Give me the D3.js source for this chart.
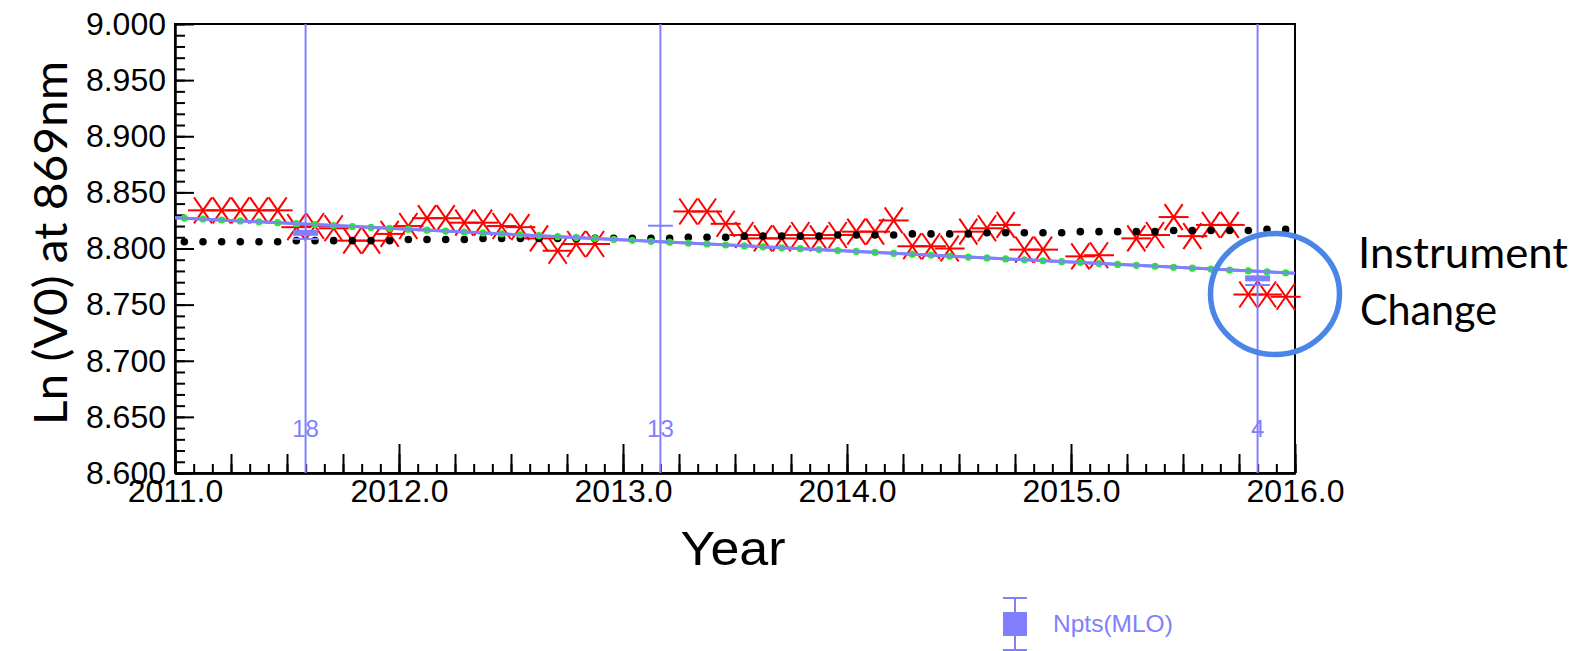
<!DOCTYPE html>
<html><head><meta charset="utf-8">
<script src="https://cdn.jsdelivr.net/npm/d3@7"></script>
<style>body{margin:0;background:#fff}svg{display:block}</style>
</head><body>
<svg id="c" width="1592" height="651"></svg>
<script>
// ---------- data ----------
const months = [
 "2011-01","2011-02","2011-03","2011-04","2011-05","2011-06","2011-07","2011-08","2011-09","2011-10","2011-11","2011-12",
 "2012-01","2012-02","2012-03","2012-04","2012-05","2012-06","2012-07","2012-08","2012-09","2012-10","2012-11","2012-12",
 "2013-01","2013-02","2013-03","2013-04","2013-05","2013-06","2013-07","2013-08","2013-09","2013-10","2013-11","2013-12",
 "2014-01","2014-02","2014-03","2014-04","2014-05","2014-06","2014-07","2014-08","2014-09","2014-10","2014-11","2014-12",
 "2015-01","2015-02","2015-03","2015-04","2015-05","2015-06","2015-07","2015-08","2015-09","2015-10","2015-11","2015-12"
];
const redValues = [
 null, 8.834, 8.834, 8.834, 8.834, 8.834, 8.819, 8.820, 8.818, 8.807, 8.807, 8.813,
 8.820, 8.827, 8.827, 8.823, 8.823, 8.820, 8.819, 8.809, 8.798, 8.804, 8.804, null,
 null, null, null, 8.833, 8.833, 8.822, 8.812, 8.809, 8.809, 8.812, 8.809, 8.812,
 8.815, 8.815, 8.825, 8.802, 8.802, 8.800, 8.815, 8.818, 8.821, 8.799, 8.799, null,
 8.793, 8.794, null, 8.809, 8.812, 8.828, 8.811, 8.821, 8.821, 8.759, 8.759, 8.757
];
const blackValues = [
 8.806, 8.806, 8.806, 8.806, 8.806, 8.806, 8.807, 8.807, 8.807, 8.807, 8.807, 8.807,
 8.808, 8.808, 8.808, 8.808, 8.809, 8.809, 8.809, 8.809, 8.809, 8.809, 8.809, 8.809,
 8.809, 8.809, 8.809, 8.810, 8.810, 8.810, 8.811, 8.811, 8.811, 8.811, 8.811, 8.812,
 8.812, 8.812, 8.812, 8.813, 8.813, 8.813, 8.813, 8.814, 8.814, 8.814, 8.814, 8.814,
 8.815, 8.815, 8.815, 8.815, 8.815, 8.816, 8.816, 8.816, 8.816, 8.816, 8.817, 8.817
];
const greenValues = [
 8.8271, 8.8263, 8.8254, 8.8246, 8.8238, 8.8230, 8.8221, 8.8213, 8.8205, 8.8196, 8.8188, 8.8180,
 8.8172, 8.8163, 8.8155, 8.8147, 8.8139, 8.8130, 8.8122, 8.8114, 8.8106, 8.8097, 8.8089, 8.8081,
 8.8073, 8.8064, 8.8056, 8.8048, 8.8040, 8.8031, 8.8023, 8.8015, 8.8006, 8.7998, 8.7990, 8.7982,
 8.7974, 8.7965, 8.7957, 8.7949, 8.7941, 8.7932, 8.7924, 8.7916, 8.7907, 8.7899, 8.7891, 8.7883,
 8.7875, 8.7866, 8.7858, 8.7850, 8.7842, 8.7833, 8.7825, 8.7817, 8.7808, 8.7800, 8.7792, 8.7784
];
const fitX = [2011.0, 2016.0];
const fitY = [8.8275, 8.7780];
const nptsX = [2011.583, 2013.167, 2015.833];
const nptsLabels = ["18", "13", "4"];
const nptsBox = [8.814, null, 8.7734];
const nptsCap = [8.8085, 8.8203, 8.7675];
const xTicks = [2011, 2012, 2013, 2014, 2015, 2016];
const yTicks = [8.60, 8.65, 8.70, 8.75, 8.80, 8.85, 8.90, 8.95, 9.00];
const xTitle = "Year";
const yTitle = "Ln (V0) at 869nm";
const legendLabel = "Npts(MLO)";
const noteLines = ["Instrument", "Change"];

// ---------- setup ----------
const svg = d3.select("#c");
svg.append("rect").attr("width",1592).attr("height",651).attr("fill","#fff");
const L=175, R=1295, T=24, B=473;
const x = d3.scaleLinear().domain([2011,2016]).range([L,R]);
const y = d3.scaleLinear().domain([8.6,9.0]).range([B,T]);
const toYear = s => { const [yy,mm] = s.split("-").map(Number); return yy + (mm-0.5)/12; };
const monthX = months.map(toYear);
const HELV = "'Liberation Sans', Arial, Helvetica, sans-serif";
const CAL = "Lato, 'Open Sans', sans-serif";
const LAV = "#8080ff";

// ---------- axes ----------
function styleAxis(g){
  g.attr("font-family",HELV).attr("font-size",32);
  g.selectAll("path.domain").attr("stroke","#000").attr("stroke-width",2);
  g.selectAll(".tick line").attr("stroke","#000").attr("stroke-width",2);
  g.selectAll(".tick text").attr("fill","#000");
}
const xMinor = d3.range(0,61).map(i=>2011+i/12);
const xMid = d3.range(0,21).map(i=>2011+i/4);
const gxm = svg.append("g").attr("transform",`translate(0,${B})`)
  .call(d3.axisBottom(x).tickValues(xMinor).tickSize(-9).tickSizeOuter(0).tickFormat(""));
styleAxis(gxm);
const gxq = svg.append("g").attr("transform",`translate(0,${B})`)
  .call(d3.axisBottom(x).tickValues(xMid).tickSize(-19).tickSizeOuter(0).tickFormat(""));
styleAxis(gxq);
const gx = svg.append("g").attr("transform",`translate(0,${B})`)
  .call(d3.axisBottom(x).tickValues(xTicks).tickSize(-29).tickSizeOuter(0).tickPadding(6).tickFormat(d3.format(".1f")));
styleAxis(gx);

const yMinor = d3.range(0,41).map(i=>8.6+i*0.01);
const gym = svg.append("g").attr("transform",`translate(${L},0)`)
  .call(d3.axisLeft(y).tickValues(yMinor).tickSize(-10).tickSizeOuter(0).tickFormat(""));
styleAxis(gym);
const gy = svg.append("g").attr("transform",`translate(${L},0)`)
  .call(d3.axisLeft(y).tickValues(yTicks).tickSize(-19).tickSizeOuter(0).tickPadding(9).tickFormat(d3.format(".3f")));
styleAxis(gy);

// frame
svg.append("rect").attr("x",L).attr("y",T).attr("width",R-L).attr("height",B-T)
  .attr("fill","none").attr("stroke","#000").attr("stroke-width",2);

// ---------- red asterisks ----------
const redPts = monthX.map((t,i)=>({t, v:redValues[i]})).filter(d=>d.v!==null);
const gr = svg.append("g").attr("stroke","#ff0000").attr("stroke-width",2).attr("fill","none");
redPts.forEach(d=>{
  const cx = x(d.t), cy = y(d.v);
  gr.append("line").attr("x1",cx-15).attr("x2",cx+15).attr("y1",cy).attr("y2",cy);
  gr.append("line").attr("x1",cx-9).attr("x2",cx+9).attr("y1",cy-13).attr("y2",cy+13);
  gr.append("line").attr("x1",cx-9).attr("x2",cx+9).attr("y1",cy+13).attr("y2",cy-13);
});

// ---------- black dots ----------
svg.append("g").selectAll("circle").data(blackValues).join("circle")
  .attr("cx",(d,i)=>x(monthX[i])).attr("cy",d=>y(d)).attr("r",3.8).attr("fill","#000");

// ---------- fit line ----------
svg.append("path").datum(fitX.map((t,i)=>[t,fitY[i]]))
  .attr("d", d3.line().x(d=>x(d[0])).y(d=>y(d[1])))
  .attr("stroke",LAV).attr("stroke-width",3).attr("fill","none");

// ---------- green dots ----------
svg.append("g").selectAll("circle").data(greenValues).join("circle")
  .attr("cx",(d,i)=>x(monthX[i])).attr("cy",d=>y(d)).attr("r",3.6).attr("fill","#22ee22");

// fit line again on top (thin core) so dots peek out above/below
svg.append("path").datum(fitX.map((t,i)=>[t,fitY[i]]))
  .attr("d", d3.line().x(d=>x(d[0])).y(d=>y(d[1])))
  .attr("stroke",LAV).attr("stroke-width",3).attr("fill","none").attr("opacity",0.85);

// ---------- Npts(MLO) ----------
const gn = svg.append("g");
nptsX.forEach((t,i)=>{
  const cx = x(t);
  gn.append("line").attr("x1",cx).attr("x2",cx).attr("y1",T).attr("y2",B)
    .attr("stroke",LAV).attr("stroke-width",2);
  if (nptsBox[i] !== null) {
    gn.append("rect").attr("x",cx-12.5).attr("y",y(nptsBox[i])-3).attr("width",25).attr("height",6)
      .attr("fill",LAV);
  }
  gn.append("line").attr("x1",cx-12.5).attr("x2",cx+12.5).attr("y1",y(nptsCap[i])).attr("y2",y(nptsCap[i]))
    .attr("stroke",LAV).attr("stroke-width",2);
  gn.append("text").attr("x",cx).attr("y",437).attr("text-anchor","middle")
    .attr("font-family",HELV).attr("font-size",24).attr("fill",LAV).text(nptsLabels[i]);
});

// ---------- titles ----------
svg.append("text").attr("x",733).attr("y",565).attr("text-anchor","middle")
  .attr("font-family",HELV).attr("font-size",48).attr("fill","#000")
  .attr("textLength",105).attr("lengthAdjust","spacingAndGlyphs").text(xTitle);

svg.append("text").attr("transform","translate(67,243) rotate(-90)")
  .attr("text-anchor","middle").attr("font-family",CAL).attr("font-size",46).attr("fill","#000")
  .attr("textLength",364).attr("lengthAdjust","spacingAndGlyphs").text(yTitle);

// ---------- annotation ----------
svg.append("ellipse").attr("cx",1275).attr("cy",294).attr("rx",64.5).attr("ry",60.5)
  .attr("fill","none").attr("stroke","#4a86e8").attr("stroke-width",5.5);
svg.append("text").attr("x",1358).attr("y",268).attr("font-family",CAL)
  .attr("font-size",42).attr("fill","#000")
  .attr("textLength",210).attr("lengthAdjust","spacingAndGlyphs").text(noteLines[0]);
svg.append("text").attr("x",1360).attr("y",325).attr("font-family",CAL)
  .attr("font-size",42).attr("fill","#000")
  .attr("textLength",137).attr("lengthAdjust","spacingAndGlyphs").text(noteLines[1]);

// ---------- legend ----------
const lg = svg.append("g");
lg.append("line").attr("x1",1015).attr("x2",1015).attr("y1",598).attr("y2",650).attr("stroke",LAV).attr("stroke-width",2);
lg.append("line").attr("x1",1003).attr("x2",1027).attr("y1",598).attr("y2",598).attr("stroke",LAV).attr("stroke-width",2);
lg.append("line").attr("x1",1003).attr("x2",1027).attr("y1",650).attr("y2",650).attr("stroke",LAV).attr("stroke-width",2);
lg.append("rect").attr("x",1003).attr("y",612).attr("width",24).attr("height",24).attr("fill",LAV);
lg.append("text").attr("x",1053).attr("y",632).attr("font-family",HELV).attr("font-size",24.5)
  .attr("fill",LAV).text(legendLabel);
</script>
</body></html>
